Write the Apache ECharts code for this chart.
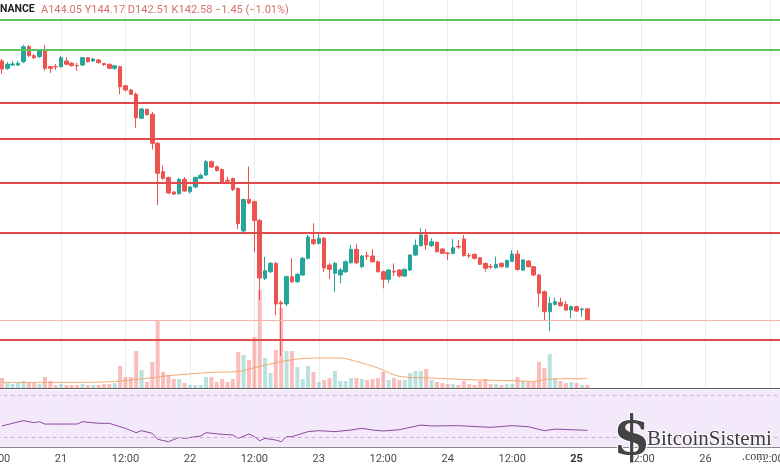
<!DOCTYPE html>
<html>
<head>
<meta charset="utf-8">
<script src="https://cdn.jsdelivr.net/npm/echarts@6/dist/echarts.min.js"></script>
<style>
  html, body { margin: 0; padding: 0; background: #fff; }
  #chart { width: 780px; height: 470px; }
</style>
</head>
<body>
<div id="chart"></div>
<script>
// saatlik mumlar: 20 13:00 -> 25 02:00 (ilk kategori 20 12:00, boş)
const startDay = 20
const startHour = 12
const hourCount = 147
const currentDay = 25

const opens = [177.10,176.12,176.56,176.56,177.00,179.00,177.80,177.67,178.56,176.34,
  176.36,176.34,177.10,176.79,176.50,176.56,177.54,177.10,177.23,176.76,
  176.66,176.12,176.34,173.80,173.23,172.66,169.46,170.66,169.99,166.12,
  162.34,161.56,159.63,159.40,161.32,159.67,160.30,161.46,161.90,163.67,
  163.00,162.63,161.19,161.43,160.10,154.43,158.66,158.34,155.83,148.12,
  149.00,150.12,144.90,144.70,148.34,147.67,148.56,150.79,153.30,152.79,
  153.46,149.90,148.79,148.56,149.00,150.20,151.99,149.67,151.14,151.10,
  150.34,149.00,147.99,149.06,149.23,148.43,149.23,151.23,152.47,153.90,
  152.47,152.92,152.03,151.50,151.46,152.36,153.36,151.16,151.32,150.87,
  150.12,149.70,149.54,150.12,149.63,150.39,151.36,149.23,150.43,149.67,
  148.56,146.34,143.67,144.66,144.92,144.66,143.90,144.34,143.94,144.05]
const closes = [176.03,176.66,176.70,176.79,179.00,177.80,177.54,178.56,176.12,176.12,
  176.32,177.54,176.66,176.47,176.46,177.54,177.00,177.36,176.87,176.63,
  176.12,176.47,173.67,173.23,172.66,169.54,170.70,169.96,166.12,162.12,
  161.46,159.50,159.36,161.32,159.76,160.30,161.56,161.86,163.67,162.96,
  162.50,160.90,161.06,159.96,155.43,158.63,158.16,155.83,148.16,149.14,
  150.12,144.70,144.70,148.34,147.67,148.63,150.79,153.63,152.76,153.46,
  149.50,149.32,150.12,149.23,150.34,151.99,150.20,151.10,151.06,150.34,
  149.00,147.99,149.23,148.96,148.43,149.32,151.23,152.52,153.90,152.56,
  153.00,151.67,151.46,151.42,152.20,152.30,151.14,151.10,150.79,149.99,
  149.46,149.63,149.99,149.67,150.50,151.36,149.30,150.56,149.67,148.56,
  146.12,143.67,144.79,145.00,144.47,143.90,144.34,143.76,144.03,142.58]
const lows = [175.36,175.90,176.43,176.43,176.83,177.63,177.36,177.50,175.76,175.50,
  175.90,176.23,176.56,176.36,175.76,176.43,176.90,176.96,176.76,176.43,
  176.03,175.90,172.66,173.03,172.56,168.20,169.36,169.76,165.30,157.90,
  161.23,159.36,159.23,159.30,159.63,159.43,160.16,161.36,161.76,162.83,
  162.36,160.76,160.83,159.76,154.70,154.30,158.03,151.63,145.23,147.90,
  148.83,143.23,137.76,144.43,147.50,147.50,148.43,150.63,152.56,152.63,
  148.96,147.99,146.30,147.46,148.83,150.10,150.03,149.50,150.56,150.23,
  148.90,146.79,147.50,148.43,148.23,148.30,149.10,151.10,152.36,151.90,
  152.30,151.56,151.36,150.56,151.30,152.03,151.03,150.83,150.63,149.90,
  149.00,149.36,149.43,149.56,149.50,150.30,149.16,149.10,149.56,148.43,
  144.34,142.56,141.10,144.50,144.36,143.76,142.79,143.63,143.00,142.51]
const highs = [177.36,176.96,177.10,177.10,179.23,179.23,178.03,178.70,179.23,176.43,
  176.70,177.76,177.63,176.96,176.83,177.63,177.63,177.50,177.36,176.83,
  176.76,176.56,176.47,173.90,173.36,172.92,170.83,170.76,170.30,166.30,
  163.14,161.70,159.76,161.50,161.63,160.43,161.70,162.10,163.90,163.83,
  163.16,162.76,161.67,161.56,160.23,158.76,163.03,158.50,156.03,151.00,
  150.30,150.30,145.16,148.50,150.79,148.83,150.96,153.90,155.46,154.03,
  153.63,150.16,150.30,149.50,150.50,152.56,152.70,151.23,151.67,151.99,
  150.50,149.16,149.36,150.12,149.36,149.43,151.36,153.30,154.79,154.70,
  153.46,153.03,152.16,151.63,153.36,153.23,153.90,151.50,151.43,150.96,
  150.23,150.03,151.00,150.23,150.63,151.90,151.90,150.70,150.56,149.76,
  148.70,146.50,145.67,145.54,145.54,145.10,144.50,144.50,144.23,144.17]
const volumes = [10,5,4,5,7,6,5,4,11,7,
  3,4,3,3,3,4,3,3,3,4,
  4,5,22,11,11,37,18,6,26,68,
  16,13,9,9,5,3,3,3,11,11,
  6,9,6,9,36,33,28,51,98,30,
  15,38,80,37,37,21,9,22,16,6,
  8,10,17,7,7,10,10,9,8,9,
  10,16,8,10,8,8,15,17,17,19,
  8,6,5,4,4,3,7,4,3,7,
  9,4,4,3,4,4,11,7,6,6,
  26,20,34,10,7,5,6,5,3,3]

// hacim ortalaması ve RSI: resimden okunan noktalar (kategori indeksi, değer)
const maIdx = [1,10,19,22,29,32,40,45,49,55,60,64,67,71,75,81,88,96,100,102,105,110]
const maVal = [5.6,5.6,5.8,6.6,10.3,12.3,15.6,16.6,21.6,28.3,30,30,26.6,20,11.6,10,8.3,7.3,6.6,8.3,9.3,9.3]
const rsiIdx = [1,5,7,8,9,15,16,19,21,22,24,26,27,29,30,32,34,35,38,39,42,44,45,47,48,49,50,52,53,54,55,58,60,63,66,68,70,72,75,79,81,86,92,96,99,102,104,110]
const rsiVal = [41.0,46.0,44.1,45.0,42.8,42.8,45.0,43.5,43.5,41.9,38.8,34.7,36.6,34.1,28.5,26.3,30.3,29.4,31.6,34.7,33.2,32.5,29.4,33.5,31.0,27.2,29.4,27.8,26.3,31.0,31.0,35.7,36.6,35.7,37.2,38.8,37.2,36.3,37.5,41.9,41.0,41.3,39.7,41.3,40.3,36.6,38.1,36.9]

const greenLevels = [182.63, 178.66]
const redLevels = [171.59, 166.70, 160.92, 154.20, 139.99]
const lastPrice = 142.58

const headerLetters = ['A', 'Y', 'D', 'K']
const headerValues = ['144.05', '144.17', '142.51', '142.58']
const headerChange = '−1.45 (−1.01%)'

const hours = []
for (let k = 0; k < hourCount; k++) {
  const t = startHour + k
  hours.push((startDay + Math.floor(t / 24)) + ' ' + (t % 24))
}

const upColor = '#26a69a'
const downColor = '#ef5350'

const isMajor = (i, v) => +String(v).split(' ')[1] % 12 === 0

const candleData = hours.map((_, i) => {
  const k = i - 1
  if (k < 0 || k >= opens.length) return '-'
  return [opens[k], closes[k], lows[k], highs[k]]
})
const volData = hours.map((_, i) => {
  const k = i - 1
  if (k < 0 || k >= volumes.length) return '-'
  const up = closes[k] >= opens[k]
  return { value: volumes[k], itemStyle: { color: up ? 'rgba(38,166,154,0.32)' : 'rgba(239,83,80,0.38)' } }
})

const xAxisFor = (gridIndex, withLabels, lineColor) => ({
  type: 'category',
  gridIndex,
  data: hours,
  boundaryGap: false,
  axisLine: { show: !!lineColor, lineStyle: { color: lineColor || '#000', width: 1 } },
  axisTick: { show: false },
  axisLabel: {
    show: withLabels,
    interval: isMajor,
    margin: 7,
    color: '#4a4a4a',
    fontSize: 11,
    fontFamily: 'Roboto',
    formatter: (v) => {
      const [d, h] = v.split(' ')
      if (+h === 0) return +d === currentDay ? '{b|' + d + '}' : d
      return '12:00'
    },
    rich: { b: { fontWeight: 'bold', color: '#333', fontSize: 11, fontFamily: 'Roboto' } },
  },
  splitLine: { show: gridIndex !== 1, interval: isMajor, lineStyle: { color: '#eaecf0', width: 1 } },
})

const levelLines = [
  ...greenLevels.map(v => ({ yAxis: v, lineStyle: { color: '#5ec35e', width: 2, type: 'solid' } })),
  ...redLevels.map(v => ({ yAxis: v, lineStyle: { color: '#e04a4a', width: 2, type: 'solid' } })),
  { yAxis: lastPrice, lineStyle: { color: '#f2b3b1', width: 1, type: 'solid' } },
]

const gridBase = { left: -3.45, right: -0.7, containLabel: false, outerBoundsMode: 'none' }

const chart = echarts.init(document.getElementById('chart'))
chart.setOption({
  animation: false,
  backgroundColor: '#fff',
  grid: [
    { ...gridBase, top: 0, height: 388 },
    { ...gridBase, top: 288, height: 100 },
    { ...gridBase, top: 390, height: 57, show: true, backgroundColor: '#f4e9fb', borderWidth: 0 },
  ],
  xAxis: [
    xAxisFor(0, false, null),
    xAxisFor(1, false, '#5a5a5a'),
    xAxisFor(2, true, '#8a8a8a'),
  ],
  yAxis: [
    { type: 'value', gridIndex: 0, min: 133.5, max: 185.23, show: false, splitLine: { show: false } },
    { type: 'value', gridIndex: 1, min: 0, max: 100, show: false, splitLine: { show: false } },
    { type: 'value', gridIndex: 2, min: 21.3, max: 74.7, show: false, splitLine: { show: false } },
  ],
  graphic: [
    { type: 'text', left: 0, top: 4, style: { text: 'NANCE', font: 'bold 10.5px Roboto', fill: '#222' } },
    {
      type: 'text', left: 41, top: 5,
      style: {
        text: headerLetters.map((l, j) => l + headerValues[j]).join(' ') + ' ' + headerChange,
        font: '11px Roboto', fill: '#d4706b',
      },
    },
    { type: 'text', left: 612, top: 412, z: 100, style: { text: '$', font: 'bold 54px "DejaVu Serif"', fill: '#444', stroke: '#fff', lineWidth: 2 } },
    { type: 'text', left: 646, top: 428, z: 100, style: { text: 'BitcoinSistemi', font: '21px "Liberation Serif"', fill: '#3c3c3c', stroke: '#fff', lineWidth: 2 } },
    { type: 'text', left: 741, top: 450, z: 100, style: { text: '.com', font: '12px "Liberation Serif"', fill: '#3c3c3c', stroke: '#fff', lineWidth: 2 } },
  ],
  series: [
    {
      type: 'bar',
      xAxisIndex: 1,
      yAxisIndex: 1,
      data: volData,
      barWidth: 4,
      z: 1,
    },
    {
      type: 'line',
      xAxisIndex: 1,
      yAxisIndex: 1,
      data: maIdx.map((x, j) => [x, maVal[j]]),
      symbol: 'none',
      smooth: 0.3,
      lineStyle: { color: '#f4a86f', width: 1 },
      z: 2,
    },
    {
      type: 'candlestick',
      xAxisIndex: 0,
      yAxisIndex: 0,
      data: candleData,
      barWidth: 4,
      z: 3,
      itemStyle: {
        color: upColor,
        color0: downColor,
        borderColor: upColor,
        borderColor0: downColor,
        borderWidth: 1,
      },
      markLine: {
        silent: true,
        symbol: ['none', 'none'],
        label: { show: false },
        data: levelLines,
      },
    },
    {
      type: 'line',
      xAxisIndex: 2,
      yAxisIndex: 2,
      data: rsiIdx.map((x, j) => [x, rsiVal[j]]),
      symbol: 'none',
      lineStyle: { color: '#8d4b9e', width: 1 },
      markLine: {
        silent: true,
        symbol: ['none', 'none'],
        label: { show: false },
        data: [
          { yAxis: 70, lineStyle: { color: '#c9b3cf', type: [4, 3], width: 1 } },
          { yAxis: 30, lineStyle: { color: '#c9b3cf', type: [4, 3], width: 1 } },
        ],
      },
    },
  ],
})
</script>
</body>
</html>
